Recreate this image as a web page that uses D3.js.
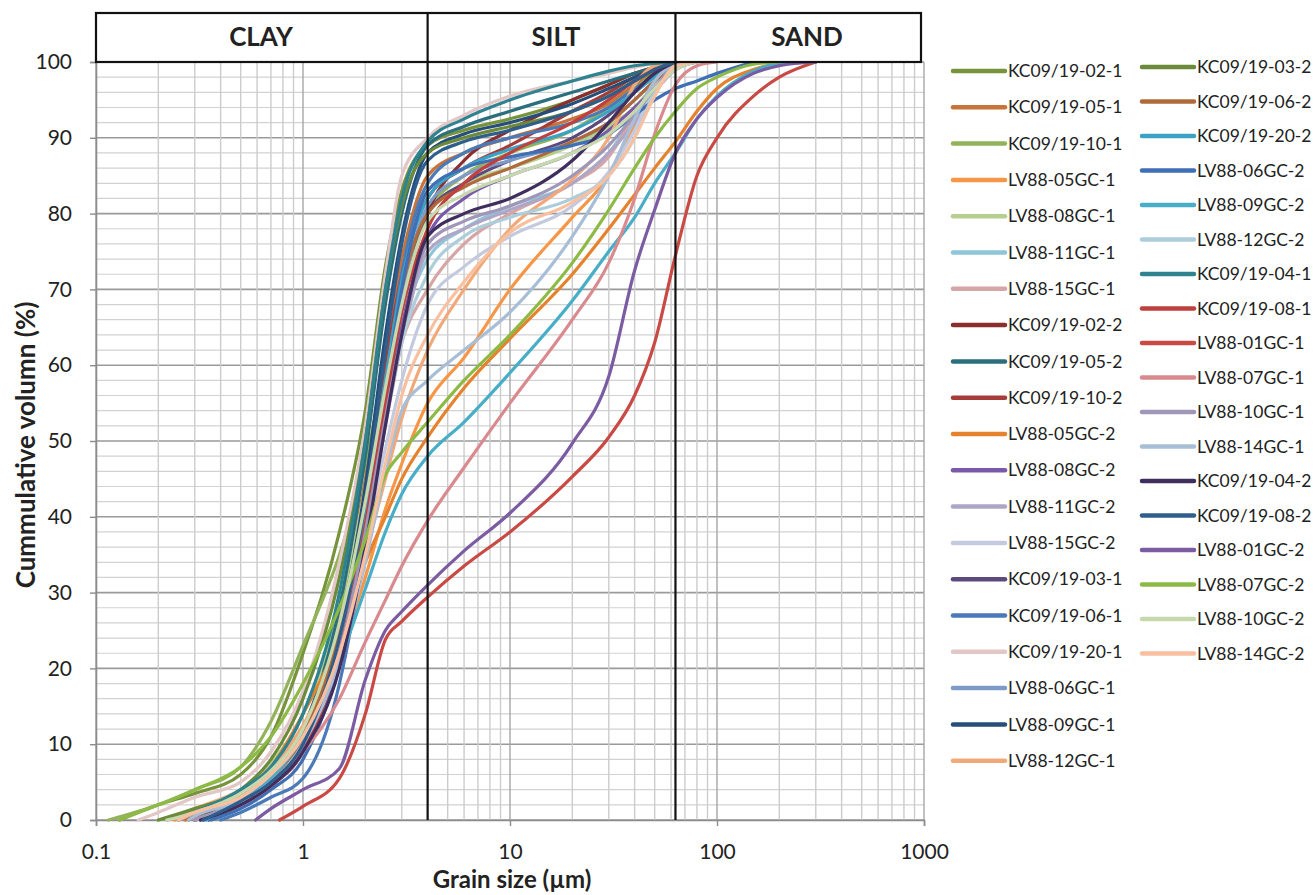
<!DOCTYPE html>
<html>
<head>
<meta charset="utf-8">
<script src="https://cdn.jsdelivr.net/npm/d3@7/dist/d3.min.js"></script>
<style>
  body { margin: 0; background: #fff; }
  svg text { font-family: Lato, "Open Sans", sans-serif; fill: #222; }
</style>
</head>
<body>
<svg id="chart" width="1315" height="895"></svg>
<script>
// grain size grid (µm) shared by every sample
const sizes = [0.2, 0.3, 0.5, 0.7, 1, 1.5, 2, 2.5, 3, 4, 6, 10, 20, 30, 40, 50, 63, 80, 100, 150, 200, 300];
const _ = null;

// legend order: left column first, then right column
const names = [
  'KC09/19-02-1', 'KC09/19-05-1', 'KC09/19-10-1', 'LV88-05GC-1', 'LV88-08GC-1', 'LV88-11GC-1', 'LV88-15GC-1',
  'KC09/19-02-2', 'KC09/19-05-2', 'KC09/19-10-2', 'LV88-05GC-2', 'LV88-08GC-2', 'LV88-11GC-2', 'LV88-15GC-2',
  'KC09/19-03-1', 'KC09/19-06-1', 'KC09/19-20-1', 'LV88-06GC-1', 'LV88-09GC-1', 'LV88-12GC-1',
  'KC09/19-03-2', 'KC09/19-06-2', 'KC09/19-20-2', 'LV88-06GC-2', 'LV88-09GC-2', 'LV88-12GC-2',
  'KC09/19-04-1', 'KC09/19-08-1', 'LV88-01GC-1', 'LV88-07GC-1', 'LV88-10GC-1', 'LV88-14GC-1',
  'KC09/19-04-2', 'KC09/19-08-2', 'LV88-01GC-2', 'LV88-07GC-2', 'LV88-10GC-2', 'LV88-14GC-2'
];

const colors = [
  '#77933c', '#c8733a', '#93b35a', '#f79646', '#b5cf8e', '#8ec5d9', '#d6a5a7',
  '#8b2e2e', '#2b6e7e', '#a53c3a', '#e5822e', '#7a5aa8', '#ada6c6', '#c3cae0',
  '#5c4a7d', '#4a7ab8', '#e3c6c6', '#7e9bc8', '#254e7a', '#f2a97a',
  '#6b8a3a', '#b0693a', '#3aa2c4', '#3f6fb5', '#48aec8', '#accdda',
  '#2f8390', '#c0403e', '#c94a45', '#d98a8e', '#a096b8', '#a8bdd6',
  '#3f2e5e', '#305e8c', '#7b5ba2', '#8dba45', '#c6d8ac', '#f9c0a0'
];

// grain size where each curve leaves 0 %
const starts = [
  0.13, 0.27, 0.115, 0.24, 0.2, 0.28, 0.22,
  0.3, 0.3, 0.28, 0.25, 0.33, 0.3, 0.25,
  0.3, 0.4, 0.16, 0.32, 0.35, 0.22,
  0.2, 0.3, 0.34, 0.36, 0.3, 0.3,
  0.25, 0.3, 0.77, 0.3, 0.3, 0.28,
  0.32, 0.33, 0.59, 0.13, 0.22, 0.25
];

// cumulative volume (%) at each size in `sizes`
const curves = [
  [2, 3.5, 6, 11, 22, 38, 54, 73, 83, 89, 91, 92.5, 95, 97, 98.5, 99.3, 100, _, _, _, _, _],
  [_, 0.5, 3, 6, 12, 27, 45, 62, 74, 85, 88, 90, 92.5, 94.5, 97, 98.5, 100, _, _, _, _, _],
  [2, 4, 7, 13, 23, 35, 47, 60, 70, 80, 85, 88, 91, 94, 96.5, 98.5, 100, _, _, _, _, _],
  [_, 1, 3.5, 6.5, 12, 22, 32, 41, 47, 55, 61, 70, 79.5, 85, 91.5, 97, 100, _, _, _, _, _],
  [0.5, 1.5, 4, 7.5, 14, 28, 44, 60, 70, 80, 84, 86, 89, 91.5, 94, 97, 99.5, 100, _, _, _, _],
  [_, 0.5, 3, 6, 11, 24, 40, 55, 65, 74, 78, 81, 84, 88, 93, 97, 99.5, 100, _, _, _, _],
  [_, 1, 3.5, 6.5, 12, 25, 40, 54, 63, 70, 76, 80, 84, 87.5, 93, 97, 99.5, 100, _, _, _, _],
  [_, 0, 2, 5, 10, 24, 41, 57, 68, 80, 87, 91, 95, 97, 98.5, 99.3, 100, _, _, _, _, _],
  [_, 0, 3, 6, 12, 28, 48, 68, 80, 89, 91.5, 93.5, 96, 97.5, 98.5, 99.3, 100, _, _, _, _, _],
  [_, 0.5, 2.5, 5.5, 11, 25, 43, 60, 72, 82, 86, 89, 93.5, 96, 98, 99.2, 100, _, _, _, _, _],
  [_, 1, 3.5, 7, 14, 24, 34, 40, 45, 50.5, 57, 63.5, 72, 78, 82.5, 86, 89.5, 93.5, 96.5, 99, 99.8, 100],
  [_, _, 2, 4.5, 9, 21, 37, 53, 65, 77, 82, 85, 88, 91, 94, 96.5, 99, 100, _, _, _, _],
  [_, 0, 2.5, 5, 10, 22, 38, 52, 63, 75, 78, 80.5, 84, 88, 92, 96, 99, 100, _, _, _, _],
  [_, 1, 3, 6, 11, 23, 37, 49, 58, 68, 73, 77, 81, 85.5, 91, 96.5, 100, _, _, _, _, _],
  [_, 0, 2.5, 5, 10, 23, 40, 56, 68, 80, 84, 87, 90, 93, 96, 98.5, 100, _, _, _, _, _],
  [_, _, 1, 3, 5.5, 18, 37, 57, 72, 84, 88, 90, 92, 94, 96.5, 98, 99.5, 100, _, _, _, _],
  [1, 3, 5, 9, 17, 34, 52, 72, 85, 90, 93, 95.5, 97.5, 98.5, 99.3, 99.8, 100, _, _, _, _, _],
  [_, _, 2, 4.5, 9, 22, 39, 56, 69, 81, 85, 87, 89.5, 92, 95, 97.5, 99.5, 100, _, _, _, _],
  [_, _, 2.5, 5, 10, 25, 44, 64, 77, 88, 90.5, 92, 94.5, 96.5, 98, 99, 100, _, _, _, _, _],
  [_, 1.5, 4, 7, 12.5, 23, 35, 45, 53, 62, 70, 78, 84.5, 90, 97, 99.5, 100, _, _, _, _, _],
  [0, 1.5, 4, 8, 16, 32, 50, 70, 81, 88, 90, 91.5, 93.5, 95.5, 97.5, 98.8, 100, _, _, _, _, _],
  [_, 0, 2.5, 5, 11, 25, 42, 58, 70, 80, 83.5, 86, 89.5, 92, 95, 97.5, 99.5, 100, _, _, _, _],
  [_, _, 2, 4.5, 9, 22, 40, 58, 71, 82, 86, 88.5, 91, 93.5, 96, 98, 99.5, 100, _, _, _, _],
  [_, _, 1.5, 4, 8, 21, 38, 56, 70, 83, 86, 87.5, 89, 90.5, 93, 95, 96.5, 97.5, 98.5, 100, _, _],
  [_, 0, 2.5, 5.5, 11, 21, 30.5, 38, 43, 48, 52.5, 59, 68.5, 75, 79.5, 84, 88, 92.5, 95.5, 98.8, 99.8, 100],
  [_, 0, 2.5, 5, 10, 22, 38, 53, 63, 72, 77, 79.5, 82, 85, 90, 96, 99.5, 100, _, _, _, _],
  [_, 1, 4, 7, 14, 30, 50, 70, 82, 89.5, 92.5, 95, 97.5, 98.8, 99.5, 99.8, 100, _, _, _, _, _],
  [_, 0, 2, 4.5, 9, 22, 39, 55, 67, 78, 84, 88, 92, 95, 97.5, 99, 100, _, _, _, _, _],
  [_, _, _, _, 1.8, 5.5, 14, 23.8, 26.2, 29.4, 33.5, 38, 45.3, 50.5, 56, 63, 74.5, 85, 90, 95.5, 98, 100],
  [_, 0, 2, 4.5, 9, 16, 23.5, 29, 33.5, 39.5, 46.5, 55, 66, 73.5, 82, 90.5, 97, 99.5, 100, _, _, _],
  [_, 0, 2.5, 5, 10, 22, 38, 53, 64, 76, 79, 81, 85, 89, 93, 96.5, 99.5, 100, _, _, _, _],
  [_, 0.5, 2.5, 5, 10, 21, 34, 46, 54, 58, 62, 67, 77, 85, 92.5, 97.5, 100, _, _, _, _, _],
  [_, _, 2, 4.5, 9, 20, 36, 52, 64, 77, 80, 82, 87, 92, 96, 98.5, 100, _, _, _, _, _],
  [_, _, 2.5, 5, 10, 24, 42, 62, 76, 87, 89.5, 91, 93.5, 95.5, 97.5, 99, 100, _, _, _, _, _],
  [_, _, _, 1.5, 4, 6.8, 18.5, 25, 27.5, 31, 35.5, 40.5, 49.7, 58.5, 72.5, 80.5, 88, 92.5, 95.3, 98.5, 99.5, 100],
  [2, 4, 7, 11, 18, 28, 37, 45.5, 48.5, 52.5, 58, 64, 73.5, 80.5, 86, 90, 93.5, 96.5, 98, 99.7, 100, _],
  [_, 1, 3.5, 6.5, 12, 26, 42, 57, 68, 79, 82.5, 85, 88, 90.5, 93.5, 96.5, 99, 100, _, _, _, _],
  [_, 1, 3, 6, 11, 22, 35, 47, 56, 64, 71, 77.5, 81.5, 85, 90, 95.5, 99.5, 100, _, _, _, _]
];

const xTicks = [0.1, 1, 10, 100, 1000];
const yTicks = [0, 10, 20, 30, 40, 50, 60, 70, 80, 90, 100];
const classNames = ['CLAY', 'SILT', 'SAND'];
const classBounds = [0.1, 4, 63, 1000];

const svg = d3.select('#chart');
const x = d3.scaleLog().domain([0.1, 1000]).range([96, 924]);
const y = d3.scaleLinear().domain([0, 100]).range([820, 62]);

// grid: every 1..9 x decade vertically, every 2 % horizontally
const vGrid = [];
for (let e = -1; e <= 2; e++) for (let n = 1; n <= 9; n++) vGrid.push(n * Math.pow(10, e));
vGrid.push(1000);
const hGrid = d3.range(0, 101, 2);

const grid = svg.append('g');
grid.selectAll('.hg').data(hGrid).enter().append('line')
  .attr('x1', x(0.1)).attr('x2', x(1000))
  .attr('y1', d => y(d)).attr('y2', d => y(d))
  .attr('stroke', d => d % 10 === 0 ? '#9a9a9a' : '#d2d2d2')
  .attr('stroke-width', d => d % 10 === 0 ? 1.6 : 1.2);
grid.selectAll('.vg').data(vGrid).enter().append('line')
  .attr('x1', d => x(d)).attr('x2', d => x(d))
  .attr('y1', y(0)).attr('y2', y(100))
  .attr('stroke', d => Math.abs(Math.log10(d) % 1) < 1e-9 ? '#a6a6a6' : '#cccccc')
  .attr('stroke-width', 1.4);

// axes
const yAxis = svg.append('g').attr('transform', 'translate(' + x(0.1) + ',0)')
  .call(d3.axisLeft(y).tickValues(yTicks).tickSize(6).tickPadding(18));
const xAxis = svg.append('g').attr('transform', 'translate(0,' + y(0) + ')')
  .call(d3.axisBottom(x).tickValues(xTicks).tickSize(6).tickPadding(18).tickFormat(d3.format('~g')));
[yAxis, xAxis].forEach(a => {
  a.select('.domain').attr('stroke', '#8c8c8c').attr('stroke-width', 1.6);
  a.selectAll('.tick line').attr('stroke', '#8c8c8c').attr('stroke-width', 1.4);
  a.selectAll('.tick text').style('font-size', '21px').attr('fill', '#222');
});

// curves
const line = d3.line()
  .x(d => x(d.s))
  .y(d => y(d.v))
  .curve(d3.curveMonotoneX);

const series = names.map((name, i) => {
  const pts = [{ s: starts[i], v: 0 }];
  curves[i].forEach((v, j) => {
    if (v != null && sizes[j] > starts[i]) pts.push({ s: sizes[j], v: v });
  });
  return { name: name, color: colors[i], pts: pts };
});

svg.append('g').selectAll('path').data(series).enter().append('path')
  .attr('d', d => line(d.pts))
  .attr('fill', 'none')
  .attr('stroke', d => d.color)
  .attr('stroke-width', 3.2)
  .attr('stroke-linejoin', 'round')
  .attr('stroke-linecap', 'round');

// class header and boundaries
const head = svg.append('g');
const headTop = 13, headRight = 921;
const labelX = [261, 556, 807];
head.append('rect')
  .attr('x', x(0.1)).attr('y', headTop)
  .attr('width', headRight - x(0.1)).attr('height', y(100) - headTop)
  .attr('fill', '#fff').attr('stroke', '#111').attr('stroke-width', 2.2);
head.selectAll('.bound').data(classBounds.slice(1, 3)).enter().append('line')
  .attr('x1', d => x(d)).attr('x2', d => x(d))
  .attr('y1', headTop).attr('y2', y(0))
  .attr('stroke', '#111').attr('stroke-width', 2.2);
head.selectAll('text').data(classNames).enter().append('text')
  .attr('x', (d, i) => labelX[i])
  .attr('y', 46)
  .attr('text-anchor', 'middle')
  .style('font-size', '26px').style('font-weight', 'bold')
  .text(d => d);

// axis titles
svg.append('text')
  .attr('x', 512).attr('y', 888)
  .attr('text-anchor', 'middle')
  .style('font-size', '24px').style('font-weight', 'bold')
  .text('Grain size (µm)');
svg.append('text')
  .attr('transform', 'translate(35,445) rotate(-90)')
  .attr('text-anchor', 'middle')
  .style('font-size', '26px').style('font-weight', 'bold')
  .text('Cummulative volumn (%)');

// legend, two columns
const legend = svg.append('g');
const leftCount = 20;
const items = legend.selectAll('g').data(series).enter().append('g')
  .attr('transform', (d, i) => i < leftCount
    ? 'translate(953,' + (71 + i * 36.3) + ')'
    : 'translate(1142,' + (67 + (i - leftCount) * 34.5) + ')');
items.append('line')
  .attr('x1', 0).attr('x2', 52).attr('y1', 0).attr('y2', 0)
  .attr('stroke', d => d.color).attr('stroke-width', 4.5)
  .attr('stroke-linecap', 'round');
items.append('text')
  .attr('x', 55).attr('y', 0).attr('dy', '0.35em')
  .style('font-size', '17.5px')
  .text(d => d.name);
</script>
</body>
</html>
